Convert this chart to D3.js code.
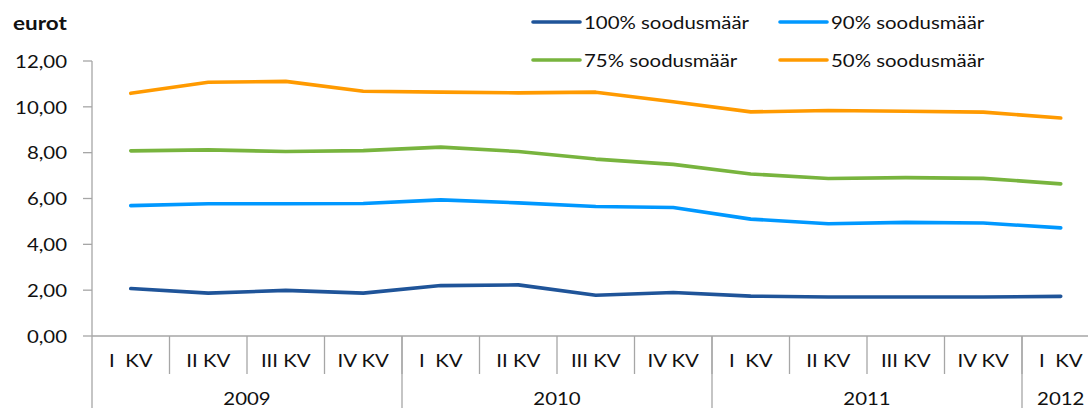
<!DOCTYPE html>
<html><head><meta charset="utf-8">
<script src="https://cdn.jsdelivr.net/npm/d3@7"></script>
<style>
html,body{margin:0;padding:0;background:#fff;}
svg{display:block;}
text{font-family:Lato,"Open Sans",sans-serif;fill:#111;}
</style></head><body>
<svg id="c" width="1088" height="408"></svg>
<script>
const quarters = ["I  KV","II KV","III KV","IV KV","I  KV","II KV","III KV","IV KV","I  KV","II KV","III KV","IV KV","I  KV"];
const years = ["2009","2010","2011","2012"];
const yearSpans = [4,4,4,1];
const yTicks = [0,2,4,6,8,10,12];
const seriesNames = ["100% soodusmäär","90% soodusmäär","75% soodusmäär","50% soodusmäär"];
const colors = ["#1F5499","#0098FF","#78B43E","#FF9A00"];
const s100 = [2.07,1.87,1.99,1.87,2.20,2.23,1.78,1.90,1.74,1.70,1.70,1.70,1.73];
const s90  = [5.69,5.77,5.77,5.78,5.94,5.81,5.65,5.61,5.10,4.90,4.96,4.93,4.72];
const s75  = [8.08,8.12,8.05,8.09,8.24,8.05,7.72,7.49,7.07,6.87,6.91,6.88,6.64];
const s50  = [10.59,11.07,11.11,10.68,10.64,10.61,10.64,10.22,9.78,9.84,9.81,9.77,9.51];
const seriesValues = [s100,s90,s75,s50];

const svg = d3.select("#c");
const SX = 1.2;
const FS = 17;
const axisCol = "#a6a6a6";

function txt(g, x, y, s, anchor, opts={}){
  return g.append("text")
    .attr("transform", `translate(${x},${y}) scale(${opts.sx||SX},1)`)
    .attr("text-anchor", anchor)
    .attr("dominant-baseline","central")
    .style("font-size", (opts.fs||FS)+"px")
    .style("font-weight", opts.fw||"normal")
    .style("white-space","pre")
    .attr("xml:space","preserve")
    .text(s);
}

const bw = 77.5, x0 = 92;
const x = d3.scaleBand().domain(d3.range(quarters.length)).range([x0, x0 + bw*quarters.length]).padding(0);
const y = d3.scaleLinear().domain([0,12]).range([336,61]);

const ga = svg.append("g");
ga.append("line").attr("x1",x0).attr("x2",x0).attr("y1",y(12)).attr("y2",408).attr("stroke",axisCol).attr("stroke-width",1.3);
yTicks.forEach(t=>{
  ga.append("line").attr("x1",83).attr("x2",x0).attr("y1",y(t)).attr("y2",y(t)).attr("stroke",axisCol).attr("stroke-width",1.3);
  txt(ga, 67, y(t), d3.format(".2f")(t).replace(".",","), "end");
});
txt(ga, 13, 23, "eurot", "start", {fw:"bold", fs:18, sx:1.25});

ga.append("line").attr("x1",x0).attr("x2",1088).attr("y1",y(0)).attr("y2",y(0)).attr("stroke",axisCol).attr("stroke-width",1.3);
quarters.forEach((q,i)=>{
  if(i>0) ga.append("line").attr("x1",x(i)).attr("x2",x(i)).attr("y1",y(0)).attr("y2",374).attr("stroke",axisCol).attr("stroke-width",1.3);
  txt(ga, x(i)+bw/2, 360, q, "middle");
});
let idx=0;
years.forEach((yr,k)=>{
  const start = idx, end = idx + yearSpans[k];
  if(start>0) ga.append("line").attr("x1",x(start)).attr("x2",x(start)).attr("y1",y(0)).attr("y2",408).attr("stroke",axisCol).attr("stroke-width",1.3);
  txt(ga, (x(start) + x(end-1)+bw)/2, 398, yr, "middle");
  idx = end;
});

const line = d3.line().x((d,i)=>x(i)+bw/2).y(d=>y(d));
seriesValues.forEach((vals,k)=>{
  svg.append("path").datum(vals).attr("d",line).attr("fill","none")
    .attr("stroke",colors[k]).attr("stroke-width",3.6).attr("stroke-linejoin","round").attr("stroke-linecap","round");
});

const lg = svg.append("g");
const legPos = [[533,22],[780,22],[533,60],[780,60]];
seriesNames.forEach((n,k)=>{
  const [lx,ly] = legPos[k];
  lg.append("line").attr("x1",lx).attr("x2",lx+47).attr("y1",ly).attr("y2",ly).attr("stroke",colors[k]).attr("stroke-width",3.6).attr("stroke-linecap","round");
  txt(lg, lx+51, ly, n, "start");
});
</script></body></html>
